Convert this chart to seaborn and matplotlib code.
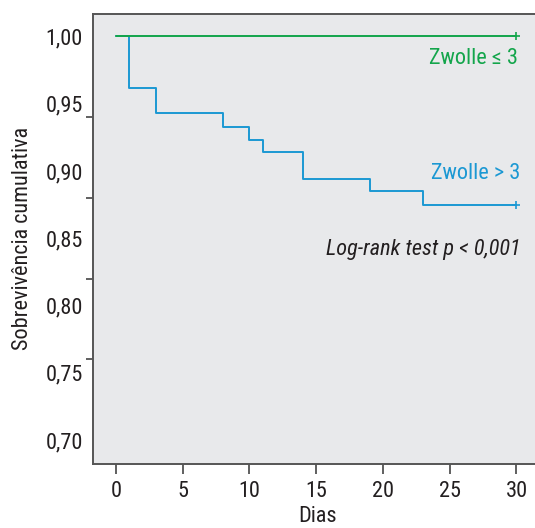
import matplotlib
matplotlib.use("Agg")
import matplotlib.pyplot as plt
import seaborn as sns
import pandas as pd
from matplotlib.ticker import FixedLocator, FuncFormatter

# Kaplan-Meier survival by Zwolle score group
dias_zwolle_baixo = [0, 30]
surv_zwolle_baixo = [1.0, 1.0]

dias_zwolle_alto = [0, 1, 3, 8, 10, 11, 14, 19, 23, 30]
surv_zwolle_alto = [1.0, 0.962, 0.943, 0.933, 0.923, 0.914, 0.894, 0.885, 0.875, 0.875]

x_ticks = [0, 5, 10, 15, 20, 25, 30]
y_labels = [0.70, 0.75, 0.80, 0.85, 0.90, 0.95, 1.00]
y_marks = [0.70, 0.76, 0.82, 0.88, 0.94, 1.00]

grupos = ["Zwolle ≤ 3", "Zwolle > 3"]
cores = {"Zwolle ≤ 3": "#13a54b", "Zwolle > 3": "#1b98d3"}

df = pd.concat([
    pd.DataFrame({"Dias": dias_zwolle_alto, "Sobrevida": surv_zwolle_alto, "Grupo": grupos[1]}),
    pd.DataFrame({"Dias": dias_zwolle_baixo, "Sobrevida": surv_zwolle_baixo, "Grupo": grupos[0]}),
])

sns.set_theme(style="ticks")
plt.rcParams["font.family"] = ["Roboto Condensed", "Liberation Sans Narrow", "DejaVu Sans"]

fig = plt.figure(figsize=(5.35, 5.28), dpi=100)
ax = fig.add_axes([92.5 / 535, 64 / 528, 450 / 535, 450.5 / 528])
ax.set_facecolor("#e8e9eb")

sns.lineplot(data=df, x="Dias", y="Sobrevida", hue="Grupo", palette=cores,
             hue_order=[grupos[1], grupos[0]], drawstyle="steps-post",
             linewidth=1.4, legend=False, ax=ax, estimator=None, sort=False)

# censoring marks at the end of follow-up
for dias, surv, g in [(dias_zwolle_alto, surv_zwolle_alto, grupos[1]),
                      (dias_zwolle_baixo, surv_zwolle_baixo, grupos[0])]:
    ax.plot(dias[-1], surv[-1], marker="+", color=cores[g], markersize=6, mew=1.2)

ax.set_xlim(-1.76, -1.76 + 450 / 13.35)
ax.set_ylim(0.70 - 24 / 1345, 1.0 + 23 / 1345)

ax.xaxis.set_major_locator(FixedLocator(x_ticks))
ax.yaxis.set_major_locator(FixedLocator(y_labels))
ax.yaxis.set_minor_locator(FixedLocator(y_marks))
ax.yaxis.set_major_formatter(FuncFormatter(lambda v, p: f"{v:.2f}".replace(".", ",")))
ax.yaxis.set_minor_formatter(FuncFormatter(lambda v, p: ""))

txt = "#231f20"
ax.tick_params(axis="x", which="major", length=7, width=1.2, color="#444444",
               labelsize=16, labelcolor=txt, pad=5)
ax.tick_params(axis="y", which="major", length=0, labelsize=16, labelcolor=txt, pad=7)
ax.tick_params(axis="y", which="minor", length=5, width=1.2, color="#444444")

for s in ["left", "top", "bottom"]:
    ax.spines[s].set_color("#555555")
    ax.spines[s].set_linewidth(1.4)
ax.spines["right"].set_visible(False)

ax.set_xlabel("Dias", fontsize=16, color=txt, labelpad=3)
ax.set_ylabel("Sobrevivência cumulativa", fontsize=16, color=txt, labelpad=9)

ax.text(30.15, 0.984, "Zwolle ≤ 3", color=cores[grupos[0]], fontsize=16, ha="right", va="center")
ax.text(30.3, 0.8985, "Zwolle > 3", color=cores[grupos[1]], fontsize=16, ha="right", va="center")
ax.text(30.3, 0.842, "Log-rank test p < 0,001", color=txt, fontsize=16, style="italic",
        ha="right", va="center")

fig.savefig("out.png", dpi=100)
